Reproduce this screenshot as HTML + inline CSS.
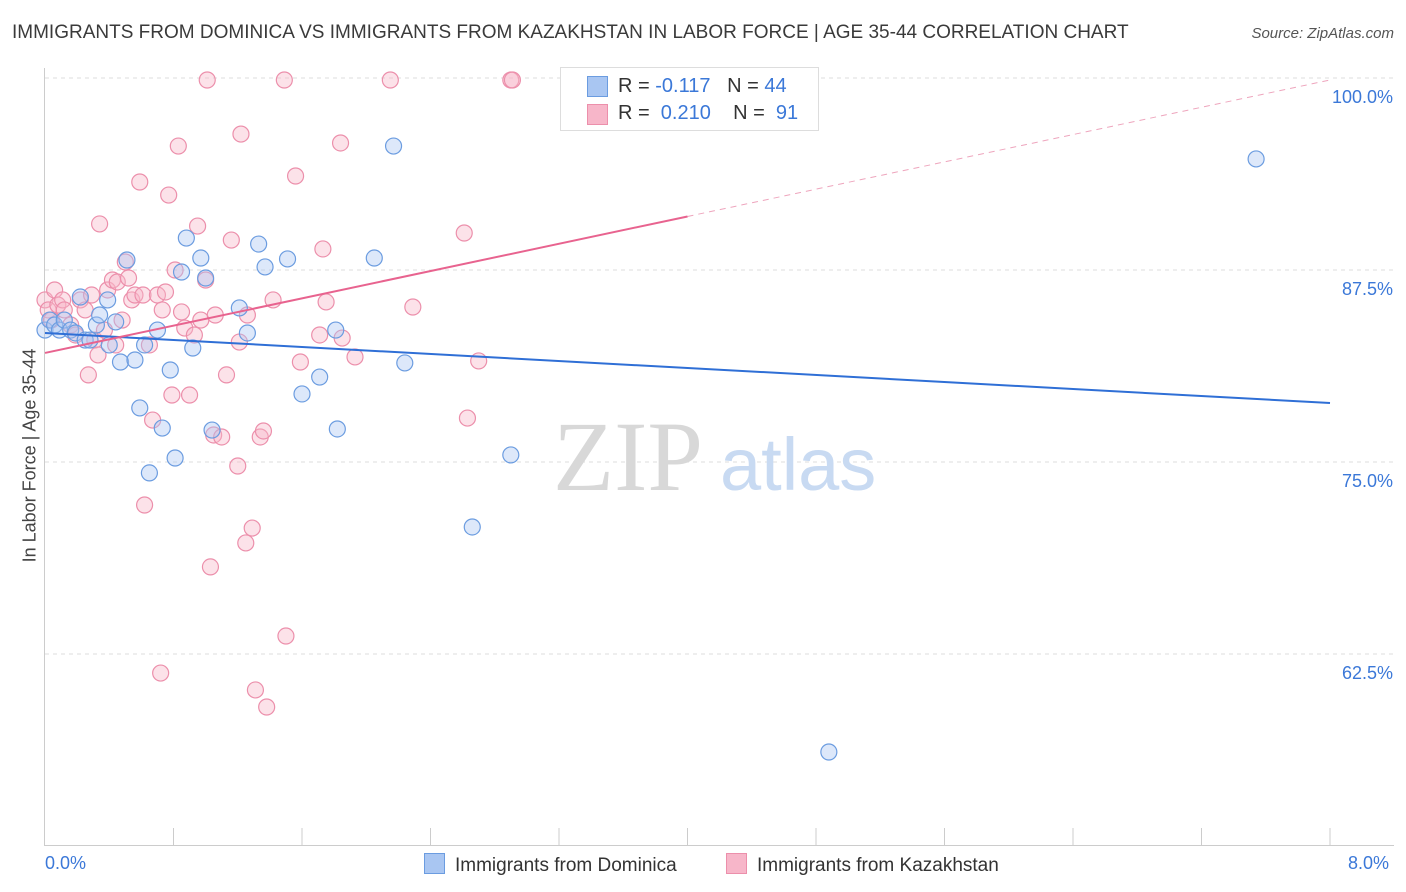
<!DOCTYPE html>
<html><head><meta charset="utf-8"><style>
body{margin:0;background:#fff;font-family:"Liberation Sans",sans-serif;}
#wrap{position:relative;width:1406px;height:892px;overflow:hidden;}
.t{position:absolute;white-space:nowrap;}
</style></head><body>
<div id="wrap">
<div class="t" style="left:12px;top:22px;font-size:19px;color:#3a3a3a;">IMMIGRANTS FROM DOMINICA VS IMMIGRANTS FROM KAZAKHSTAN IN LABOR FORCE | AGE 35-44 CORRELATION CHART</div>
<div class="t" style="right:12px;top:25px;font-size:15px;color:#555;font-style:italic;">Source: ZipAtlas.com</div>
<svg id="svg" width="1406" height="892" style="position:absolute;left:0;top:0"></svg>
</div>
<script>
const blueX=[0.00,0.03,0.06,0.09,0.12,0.16,0.19,0.22,0.25,0.28,0.32,0.34,0.39,0.40,0.44,0.47,0.51,0.56,0.59,0.62,0.65,0.70,0.73,0.78,0.81,0.85,0.88,0.92,0.97,1.00,1.04,1.21,1.26,1.33,1.37,1.51,1.60,1.71,1.81,1.82,2.05,2.17,2.24,2.66,2.90,4.88,7.54];
const blueY=[83.59,84.24,83.92,83.59,84.24,83.59,83.40,85.74,82.94,82.94,83.92,84.57,85.55,82.62,84.12,81.51,88.15,81.64,78.52,82.62,74.29,83.59,77.21,80.99,75.26,87.37,89.58,82.42,88.28,86.98,77.08,85.03,83.40,89.19,87.70,88.22,79.43,80.53,83.59,77.15,88.28,95.57,81.45,70.77,75.46,56.12,94.73];
const pinkX=[0.00,0.02,0.04,0.06,0.08,0.11,0.12,0.16,0.19,0.22,0.25,0.27,0.29,0.31,0.33,0.34,0.37,0.39,0.42,0.44,0.45,0.48,0.50,0.52,0.54,0.56,0.59,0.61,0.62,0.65,0.67,0.70,0.72,0.73,0.75,0.77,0.79,0.81,0.83,0.85,0.87,0.90,0.93,0.95,0.97,1.00,1.01,1.03,1.05,1.06,1.10,1.13,1.16,1.20,1.21,1.22,1.25,1.26,1.29,1.31,1.34,1.36,1.38,1.42,1.49,1.50,1.56,1.59,1.71,1.73,1.75,1.84,1.85,1.93,2.15,2.29,2.61,2.63,2.70,2.90,2.91,3.28];
const pinkY=[85.55,84.90,84.24,86.20,85.22,85.55,84.90,83.92,83.27,85.55,84.90,80.67,85.87,82.94,81.97,90.50,83.59,86.20,86.85,82.62,86.72,84.24,88.02,86.98,85.55,85.87,93.23,85.87,72.20,82.62,77.73,85.87,61.26,84.90,86.07,92.38,79.36,87.50,95.57,84.77,83.72,79.36,83.27,90.36,84.24,86.85,99.87,68.17,76.76,84.57,76.63,80.67,89.45,74.74,82.81,96.35,69.73,84.57,70.70,60.16,76.63,77.02,59.05,85.55,99.87,63.67,93.62,81.51,83.27,88.87,85.42,95.77,83.07,81.84,99.87,85.09,89.91,77.86,81.58,99.87,99.87,99.87];
const yTicks=[100,87.5,75,62.5];
const yTickLabels=["100.0%","87.5%","75.0%","62.5%"];
const blueTrend=[83.40,78.84];
const pinkTrend=[82.10,99.87];
const pinkSolidEnd=4.0;

const X0=45,X1=1330,xs=v=>X0+(v/8)*(X1-X0);
const ys=v=>78+(100-v)/12.5*192;
const svg=document.getElementById('svg');
const NS='http://www.w3.org/2000/svg';
function mk(t,a){const e=document.createElementNS(NS,t);for(const k in a)e.setAttribute(k,a[k]);svg.appendChild(e);return e;}
yTicks.forEach((v,i)=>{
 const g=mk('line',{x1:45,x2:1394,y1:ys(v),y2:ys(v),stroke:'#dddddd','stroke-dasharray':'4,4'});
 
 
 const t=mk('text',{x:1393,y:ys(v)+25,'text-anchor':'end','font-size':'18',fill:'#3b78d8','font-family':'Liberation Sans'});
 t.textContent=yTickLabels[i];
 
 
});
let a=mk('line',{x1:44.5,x2:44.5,y1:68,y2:846,stroke:'#ccc'});

a=mk('line',{x1:44,x2:1394,y1:845.5,y2:845.5,stroke:'#ccc'});

for(let i=1;i<=10;i++){const x=X0+i*(X1-X0)/10;const t=mk('line',{x1:x,x2:x,y1:828,y2:846,stroke:'#ccc'});
 
 }
let w=mk('text',{x:553,y:490,'font-size':'100','font-family':'Liberation Serif',fill:'#d8d8d8'});w.textContent='ZIP';

w=mk('text',{x:720,y:490,'font-size':'74','font-family':'Liberation Sans',fill:'#c8daf2'});w.textContent='atlas';

function dots(X,Y,fill,stroke,name){X.forEach((v,i)=>{const c=mk('circle',{cx:xs(v),cy:ys(Y[i]),r:8,fill:fill,'fill-opacity':0.4,stroke:stroke,'stroke-width':1.2});
 
 });}
dots(pinkX,pinkY,'#f7b6c9','#ec8fab','kazakhstan-point');
dots(blueX,blueY,'#a9c6f2','#6b9ce0','dominica-point');
let l=mk('line',{x1:xs(0),y1:ys(blueTrend[0]),x2:xs(8),y2:ys(blueTrend[1]),stroke:'#2f6fd6','stroke-width':2});

const py=x=>pinkTrend[0]+(pinkTrend[1]-pinkTrend[0])*x/8;
l=mk('line',{x1:xs(0),y1:ys(py(0)),x2:xs(pinkSolidEnd),y2:ys(py(pinkSolidEnd)),stroke:'#e8638f','stroke-width':2});

l=mk('line',{x1:xs(pinkSolidEnd),y1:ys(py(pinkSolidEnd)),x2:xs(8),y2:ys(py(8)),stroke:'#eea5bd','stroke-width':1,'stroke-dasharray':'6,5'});

</script>
<div class="t" style="left:-90px;top:445px;font-size:18px;color:#444;transform:rotate(-90deg);width:240px;text-align:center;">In Labor Force | Age 35-44</div>
<div class="t" style="left:45px;top:853px;font-size:18px;color:#3b78d8;">0.0%</div>
<div class="t" style="left:1348px;top:853px;font-size:18px;color:#3b78d8;">8.0%</div>
<div style="position:absolute;left:560px;top:67px;width:257px;height:62px;border:1px solid #ddd;background:#fff;font-size:20px;color:#333;">
 <div style="position:absolute;left:26px;top:8px;width:19px;height:19px;background:#a9c6f2;border:1px solid #6b9ce0;"></div>
 <div class="t" style="left:57px;top:7px;">R = <span style="color:#3b78d8">-0.117</span>&nbsp;&nbsp;&nbsp;N = <span style="color:#3b78d8">44</span></div>
 <div style="position:absolute;left:26px;top:36px;width:19px;height:19px;background:#f7b6c9;border:1px solid #ec8fab;"></div>
 <div class="t" style="left:57px;top:34px;">R = &nbsp;<span style="color:#3b78d8">0.210</span>&nbsp;&nbsp;&nbsp;&nbsp;N = &nbsp;<span style="color:#3b78d8">91</span></div>
</div>
<div style="position:absolute;left:424px;top:853px;font-size:19px;color:#333;">
 <span style="display:inline-block;width:19px;height:19px;background:#a9c6f2;border:1px solid #6b9ce0;vertical-align:-3px;margin-right:10px;"></span>Immigrants from Dominica</div>
<div style="position:absolute;left:726px;top:853px;font-size:19px;color:#333;">
 <span style="display:inline-block;width:19px;height:19px;background:#f7b6c9;border:1px solid #ec8fab;vertical-align:-3px;margin-right:10px;"></span>Immigrants from Kazakhstan</div>
</body></html>
